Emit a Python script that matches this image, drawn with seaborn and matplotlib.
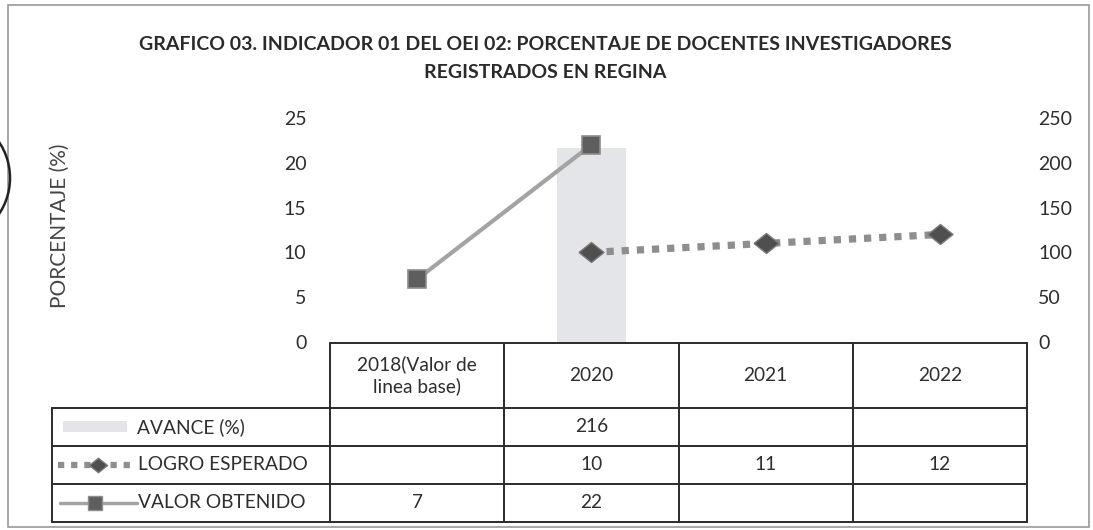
import numpy as np
import pandas as pd
import matplotlib
matplotlib.use("Agg")
import matplotlib.pyplot as plt
import seaborn as sns
from matplotlib.lines import Line2D
from matplotlib.patches import Rectangle, Ellipse

# ---------------- data ----------------
title_lines = ["GRAFICO 03. INDICADOR 01 DEL OEI 02: PORCENTAJE DE DOCENTES INVESTIGADORES",
               "REGISTRADOS EN REGINA"]
categories = ["2018(Valor de\nlinea base)", "2020", "2021", "2022"]
avance = [np.nan, 216, np.nan, np.nan]          # right axis
logro_esperado = [np.nan, 10, 11, 12]           # left axis
valor_obtenido = [7, 22, np.nan, np.nan]        # left axis
series_names = ["AVANCE (%)", "LOGRO ESPERADO", "VALOR OBTENIDO"]
left_ticks = [0, 5, 10, 15, 20, 25]
right_ticks = [0, 50, 100, 150, 200, 250]
y_label = "PORCENTAJE (%)"

# ---------------- style ----------------
sns.set_theme(style="white")
plt.rcParams["font.family"] = ["Lato", "DejaVu Sans"]
TXT = "#2e2e2e"
LINE = "#2b2b2b"
FS = 13.8

W, H = 1093, 530
fig = plt.figure(figsize=(W / 100, H / 100), dpi=100)


def fx(px):
    return px / W


def fy(py):
    return 1 - py / H


# wide diamond marker like the reference
DIAMOND = [(-1.0, 0.0), (0.0, 0.8), (1.0, 0.0), (0.0, -0.8), (-1.0, 0.0)]

# plot area
x0, x1, ytop, ybot = 330, 1027, 118, 342
ax = fig.add_axes([fx(x0), fy(ybot), fx(x1) - fx(x0), fy(ytop) - fy(ybot)])
ax2 = ax.twinx()

df = pd.DataFrame({"pos": np.arange(len(categories)), "cat": categories,
                   "avance": avance, "logro": logro_esperado, "valor": valor_obtenido})

# bar (right axis)
sns.barplot(data=df.dropna(subset=["avance"]), x="pos", y="avance", ax=ax2,
            native_scale=True, width=0.4, color="#e4e5e9", saturation=1,
            edgecolor="none")

# lines (left axis)
sns.lineplot(data=df.dropna(subset=["valor"]), x="pos", y="valor", ax=ax,
             color="#a3a3a3", lw=3, marker="s", markersize=13,
             markerfacecolor="#5e5e5e", markeredgecolor="#8d8d8d", markeredgewidth=1.2)
sns.lineplot(data=df.dropna(subset=["logro"]), x="pos", y="logro", ax=ax,
             color="#8e8e8e", lw=5.2, linestyle=(0, (1, 1.1)), marker=DIAMOND,
             markersize=18, markerfacecolor="#4f4f4f", markeredgecolor="#7a7a7a",
             markeredgewidth=1)

ax.set_zorder(ax2.get_zorder() + 1)
ax.patch.set_visible(False)

for a in (ax, ax2):
    a.set_xlim(-0.5, len(categories) - 0.5)
    for s in a.spines.values():
        s.set_visible(False)
    a.set_xlabel("")
    a.set_ylabel("")
    a.set_xticks([])
    a.grid(False)

ax.set_ylim(0, 25)
ax.set_yticks(left_ticks)
ax.tick_params(axis="y", length=0, pad=17, labelsize=14, labelcolor=TXT)
ax2.set_ylim(0, 250)
ax2.set_yticks(right_ticks)
ax2.tick_params(axis="y", length=0, pad=8, labelsize=14, labelcolor=TXT)

# title and axis label
for line, ty in zip(title_lines, [45, 73]):
    fig.text(fx(545), fy(ty), line, ha="center", va="center", fontsize=14,
             fontweight="bold", color="#2a2a2a")
fig.text(fx(60), fy(226), y_label, rotation=90, ha="center", va="center",
         fontsize=15, color="#444444")

# ---------------- data table ----------------
col_edges = np.linspace(x0, x1, len(categories) + 1)
lab_x0 = 52
row_edges = [408, 446, 484, 522]
head_top = 343


def hline(xa, xb, y):
    fig.add_artist(Line2D([fx(xa), fx(xb)], [fy(y), fy(y)], color=LINE, lw=1.4,
                          transform=fig.transFigure))


def vline(x, ya, yb):
    fig.add_artist(Line2D([fx(x), fx(x)], [fy(ya), fy(yb)], color=LINE, lw=1.4,
                          transform=fig.transFigure))


hline(x0, x1, head_top)
for y in row_edges:
    hline(lab_x0, x1, y)
for x in col_edges:
    vline(x, head_top, row_edges[-1])
vline(lab_x0, row_edges[0], row_edges[-1])

centers = (col_edges[:-1] + col_edges[1:]) / 2
for cx, lab in zip(centers, categories):
    fig.text(fx(cx), fy((head_top + row_edges[0]) / 2), lab, ha="center", va="center",
             fontsize=FS, color=TXT, linespacing=1.25)

rows = [avance, logro_esperado, valor_obtenido]
row_centers = [(row_edges[i] + row_edges[i + 1]) / 2 for i in range(3)]
for vals, rc in zip(rows, row_centers):
    for cx, v in zip(centers, vals):
        if not np.isnan(v):
            fig.text(fx(cx), fy(rc), f"{v:g}", ha="center", va="center",
                     fontsize=FS, color=TXT)

# row labels with legend keys
text_x = [137, 138, 138]
for name, rc, tx in zip(series_names, row_centers, text_x):
    fig.text(fx(tx), fy(rc), name, ha="left", va="center", fontsize=FS, color=TXT)

# key: bar swatch
fig.add_artist(Rectangle((fx(63), fy(row_centers[0] + 5)), fx(127) - fx(63), 11 / H,
                         transform=fig.transFigure, facecolor="#e4e5e9", edgecolor="none"))
# key: logro
fig.add_artist(Line2D([fx(58), fx(136)], [fy(row_centers[1])] * 2, color="#8e8e8e", lw=4.5,
                      linestyle=(0, (1, 1.1)), transform=fig.transFigure))
fig.add_artist(Line2D([fx(98)], [fy(row_centers[1])], marker=DIAMOND, markersize=13,
                      markerfacecolor="#4f4f4f", markeredgecolor="#7a7a7a",
                      transform=fig.transFigure))
# key: valor
fig.add_artist(Line2D([fx(60), fx(137)], [fy(row_centers[2])] * 2, color="#a3a3a3", lw=2.5,
                      transform=fig.transFigure))
fig.add_artist(Line2D([fx(95)], [fy(row_centers[2])], marker="s", markersize=10.5,
                      markerfacecolor="#5e5e5e", markeredgecolor="#8d8d8d",
                      transform=fig.transFigure))

# scanned page frame and stamp edge
fig.add_artist(Rectangle((fx(8), fy(527)), fx(1089) - fx(8), (527 - 5) / H,
                         transform=fig.transFigure, facecolor="none",
                         edgecolor="#9a9a9a", lw=1.2))
fig.add_artist(Ellipse((fx(-45), fy(178)), 110 / W, 120 / H, transform=fig.transFigure,
                       facecolor="none", edgecolor="#222222", lw=1.8))

fig.savefig("out.png", dpi=100)
